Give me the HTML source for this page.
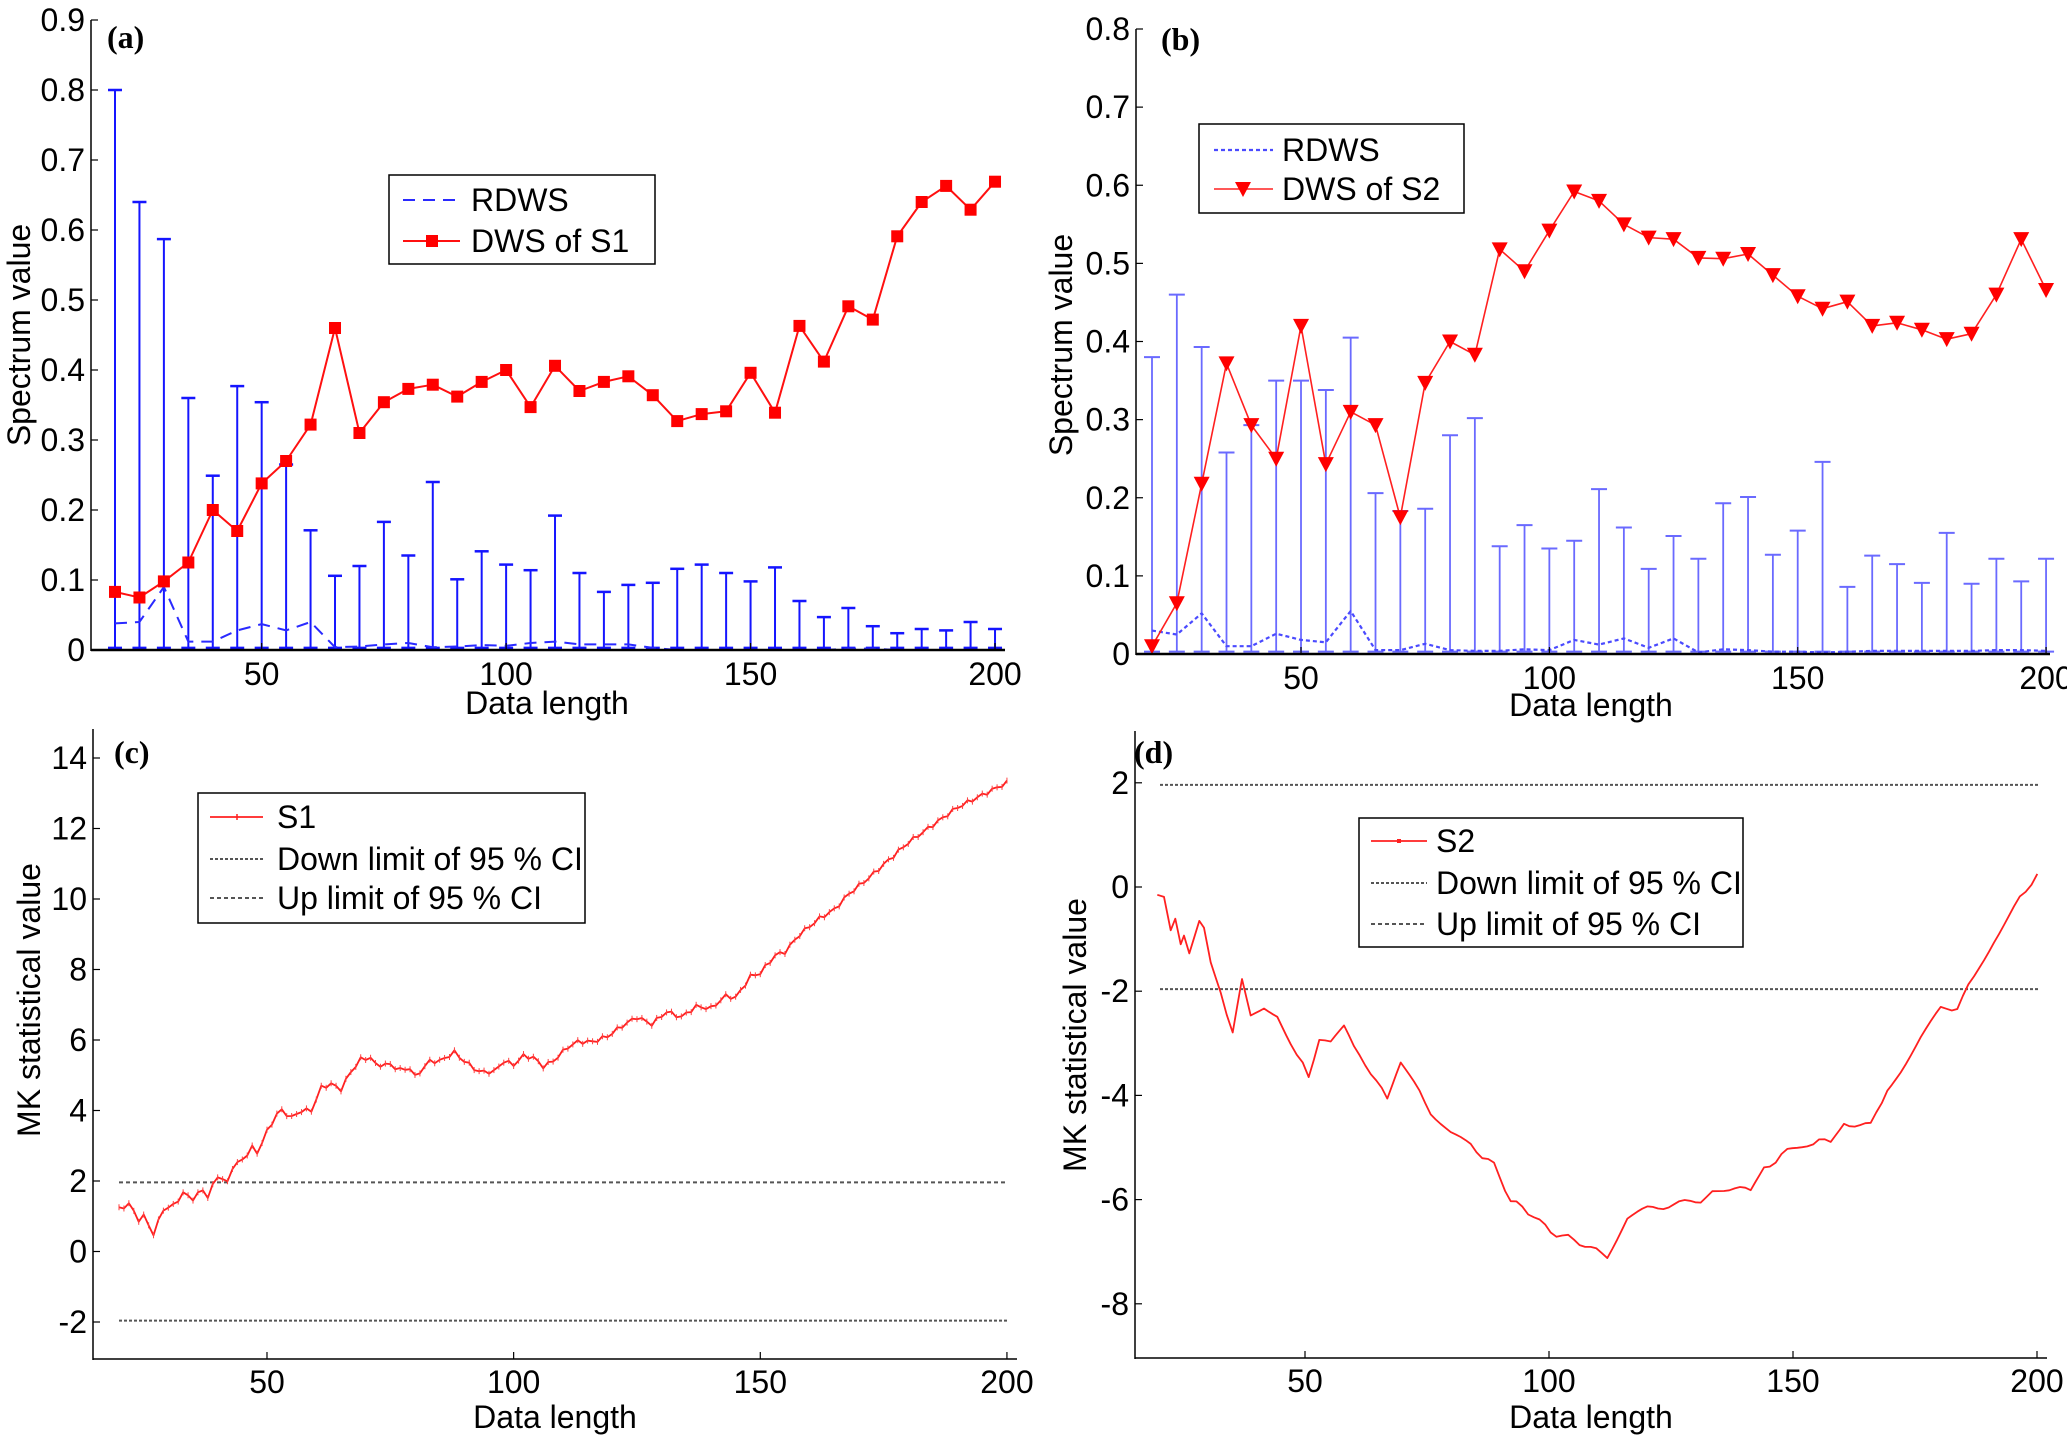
<!DOCTYPE html>
<html><head><meta charset="utf-8">
<style>
html,body{margin:0;padding:0;background:#fff;}
svg{display:block;}
text{font-family:"Liberation Sans",sans-serif;fill:#000;}
.pl{font-family:"Liberation Serif",serif;font-weight:bold;}
</style></head>
<body>
<svg id="s" width="2067" height="1437" viewBox="0 0 2067 1437" xmlns="http://www.w3.org/2000/svg"></svg>
<script>
var S=document.getElementById('s'),h='';
function L(x1,y1,x2,y2,c,w,d){h+='<line x1="'+x1+'" y1="'+y1+'" x2="'+x2+'" y2="'+y2+'" stroke="'+c+'" stroke-width="'+w+'"'+(d?' stroke-dasharray="'+d+'"':'')+'/>';}
function P(pts,c,w,d){h+='<polyline fill="none" points="'+pts.map(function(p){return p[0].toFixed(1)+','+p[1].toFixed(1)}).join(' ')+'" stroke="'+c+'" stroke-width="'+w+'"'+(d?' stroke-dasharray="'+d+'"':'')+' stroke-linejoin="round"/>';}
function T(x,y,s,a,sz,cls){h+='<text x="'+x+'" y="'+y+'" font-size="'+(sz||32)+'" text-anchor="'+(a||'start')+'"'+(cls?' class="'+cls+'"':'')+'>'+s+'</text>';}
function TR(x,y,s){h+='<text x="'+x+'" y="'+y+'" font-size="32" text-anchor="middle" transform="rotate(-90 '+x+' '+y+')">'+s+'</text>';}
var X=[];for(var i=20;i<=200;i+=5)X.push(i);

// ---------- Panel a ----------
(function(){
var px=function(x){return 115+(x-20)*4.889},py=function(v){return 650-v*700};
var dws=[0.083,0.075,0.098,0.125,0.20,0.17,0.238,0.27,0.322,0.46,0.31,0.354,0.373,0.379,0.362,0.383,0.40,0.347,0.406,0.37,0.383,0.391,0.364,0.327,0.337,0.341,0.396,0.339,0.463,0.412,0.491,0.472,0.591,0.64,0.663,0.629,0.669];
var top=[0.80,0.64,0.587,0.36,0.249,0.377,0.354,0.265,0.171,0.106,0.12,0.183,0.135,0.24,0.101,0.141,0.122,0.114,0.192,0.11,0.083,0.093,0.096,0.116,0.122,0.11,0.098,0.118,0.07,0.047,0.06,0.034,0.024,0.03,0.028,0.04,0.03];
var rd=[0.038,0.04,0.09,0.012,0.012,0.028,0.037,0.028,0.04,0.004,0.005,0.008,0.01,0.004,0.005,0.007,0.006,0.01,0.012,0.008,0.008,0.008,0.003,0,0,0,0,0,0,0,0.002,0.002,0,0,0,0,0];
X.forEach(function(x,i){var xx=px(x);L(xx,py(top[i]),xx,py(0.003),'#1515ff',2);L(xx-7,py(top[i]),xx+7,py(top[i]),'#1515ff',2.5);L(xx-7,py(0.003),xx+7,py(0.003),'#1515ff',2.5);});
P(X.map(function(x,i){return [px(x),py(rd[i])]}),'#2a2aff',2,'12,8');
P(X.map(function(x,i){return [px(x),py(dws[i])]}),'#ff1010',2);
X.forEach(function(x,i){h+='<rect x="'+(px(x)-6)+'" y="'+(py(dws[i])-6)+'" width="12" height="12" fill="#ff0000"/>';});
L(91,20,91,651,'#000',1.5);L(91,650,1005,650,'#000',2.5);
for(var v=0;v<=9;v++){var y=py(v/10);L(91,y,98,y,'#000',1.2);T(85,y+11,v==0?'0':(v/10).toFixed(1),'end');}
[50,100,150,200].forEach(function(x){L(px(x),650,px(x),643,'#000',1.2);T(px(x),685,x,'middle');});
T(547,714,'Data length','middle');TR(30,335,'Spectrum value');
T(107,48,'(a)','start',32,'pl');
h+='<rect x="389" y="175" width="266" height="89" fill="#fff" stroke="#000" stroke-width="1.5"/>';
L(403,200,460,200,'#2a2aff',2,'12,8');T(471,211,'RDWS');
L(403,241,460,241,'#ff1010',2);h+='<rect x="426" y="235" width="12" height="12" fill="#ff0000"/>';T(471,252,'DWS of S1');
})();

// ---------- Panel b ----------
(function(){
var px=function(x){return 1152+(x-20)*4.967},py=function(v){return 654-v*781.25};
var dws=[0.01,0.065,0.218,0.372,0.293,0.25,0.42,0.243,0.31,0.293,0.175,0.347,0.4,0.383,0.518,0.49,0.542,0.592,0.58,0.55,0.533,0.531,0.507,0.506,0.512,0.485,0.458,0.442,0.451,0.42,0.424,0.415,0.403,0.41,0.46,0.531,0.466];
var top=[0.38,0.46,0.393,0.258,0.293,0.35,0.35,0.338,0.405,0.206,0.183,0.186,0.28,0.302,0.138,0.165,0.135,0.145,0.211,0.162,0.109,0.151,0.122,0.193,0.201,0.127,0.158,0.246,0.086,0.126,0.115,0.091,0.155,0.09,0.122,0.093,0.122];
var rd=[0.03,0.025,0.052,0.01,0.01,0.026,0.018,0.015,0.055,0.005,0.005,0.013,0.005,0.004,0.004,0.006,0.005,0.018,0.012,0.02,0.008,0.02,0.002,0.006,0.005,0.003,0.003,0.002,0.003,0.004,0.004,0.004,0.004,0.004,0.005,0.005,0.004];
X.forEach(function(x,i){var xx=px(x);L(xx,py(top[i]),xx,py(0.003),'#6a6aff',1.8);L(xx-8,py(top[i]),xx+8,py(top[i]),'#6a6aff',2);L(xx-8,py(0.003),xx+8,py(0.003),'#6a6aff',2);});
P(X.map(function(x,i){return [px(x),py(rd[i])]}),'#4a4aff',2.2,'4,3');
P(X.map(function(x,i){return [px(x),py(dws[i])]}),'#ff2020',1.6);
X.forEach(function(x,i){var a=px(x),b=py(dws[i]);h+='<polygon points="'+(a-8)+','+(b-7)+' '+(a+8)+','+(b-7)+' '+a+','+(b+8)+'" fill="#ff0000"/>';});
L(1136,29,1136,655,'#000',1.5);L(1136,654,2050,654,'#000',2.5);
for(var v=0;v<=8;v++){var y=py(v/10);L(1136,y,1143,y,'#000',1.2);T(1130,y+11,v==0?'0':(v/10).toFixed(1),'end');}
[50,100,150,200].forEach(function(x){L(px(x),654,px(x),647,'#000',1.2);T(px(x),689,x,'middle');});
T(1591,716,'Data length','middle');TR(1072,345,'Spectrum value');
T(1161,50,'(b)','start',32,'pl');
h+='<rect x="1199" y="124" width="265" height="89" fill="#fff" stroke="#000" stroke-width="1.5"/>';
L(1214,150,1273,150,'#4a4aff',2.2,'4,3');T(1282,161,'RDWS');
L(1214,189,1273,189,'#ff2020',1.6);var a=1243,b=189;h+='<polygon points="'+(a-8)+','+(b-7)+' '+(a+8)+','+(b-7)+' '+a+','+(b+8)+'" fill="#ff0000"/>';T(1282,200,'DWS of S2');
})();

// ---------- Panel c ----------
(function(){
var px=function(x){return 119+(x-20)*4.933},py=function(v){return 1251.5-v*35.25};
var k=[[20,1.2],[22,1.35],[24,0.9],[25,1.0],[27,0.5],[29,1.2],[31,1.3],[33,1.65],[35,1.5],[37,1.75],[38,1.55],[40,2.15],[42,1.95],[43,2.4],[45,2.6],[47,2.95],[48,2.8],[50,3.4],[52,3.9],[53,4.0],[55,3.8],[57,4.0],[59,4.0],[61,4.65],[63,4.75],[65,4.6],[67,5.1],[69,5.45],[71,5.5],[72,5.3],[75,5.3],[77,5.15],[79,5.2],[80,4.95],[83,5.4],[85,5.4],[88,5.65],[90,5.4],[93,5.1],[96,5.1],[98,5.4],[100,5.3],[102,5.55],[104,5.5],[106,5.25],[108,5.4],[111,5.8],[113,5.95],[116,5.95],[119,6.1],[122,6.4],[125,6.65],[128,6.45],[131,6.8],[134,6.65],[137,6.95],[140,6.9],[143,7.25],[145,7.2],[148,7.8],[150,7.9],[153,8.4],[155,8.5],[158,9.0],[162,9.45],[165,9.7],[168,10.15],[172,10.6],[176,11.1],[180,11.6],[185,12.1],[190,12.6],[195,12.95],[200,13.3]];
var pts=[];for(var x=20;x<=200;x++){var j=0;while(j<k.length-2&&k[j+1][0]<x)j++;var a=k[j],b=k[j+1];var v=a[1]+(b[1]-a[1])*(x-a[0])/(b[0]-a[0]);v+=0.06*Math.sin(x*2.3);pts.push([px(x),py(v)]);}
L(119,py(1.96),1007,py(1.96),'#555',2,'4,3');L(119,py(-1.96),1007,py(-1.96),'#555',2,'3,2');
P(pts,'#ff2020',1.8);
pts.forEach(function(p){L(p[0],p[1]-3,p[0],p[1]+3,'#ff4040',1);});
L(93,729,93,1360,'#000',1.5);L(93,1359,1017,1359,'#000',1.5);
for(var v=-2;v<=14;v+=2){var y=py(v);L(93,y,100,y,'#000',1.2);T(87,y+11,v,'end');}
[50,100,150,200].forEach(function(x){L(px(x),1359,px(x),1352,'#000',1.2);T(px(x),1393,x,'middle');});
T(555,1428,'Data length','middle');TR(40,1000,'MK statistical value');
T(114,763,'(c)','start',32,'pl');
h+='<rect x="198" y="793" width="387" height="130" fill="#fff" stroke="#000" stroke-width="1.5"/>';
L(210,817,263,817,'#ff2020',1.8);L(237,814,237,820,'#ff2020',1.5);T(277,828,'S1');
L(210,859,263,859,'#555',2,'3,2');T(277,870,'Down limit of 95 % CI');
L(210,898,263,898,'#555',2,'4,3');T(277,909,'Up limit of 95 % CI');
})();

// ---------- Panel d ----------
(function(){
var z=[[185,383],[195,390],[205,455],[212,430],[220,490],[225,465],[233,505],[248,440],[255,455],[265,530],[280,590],[298,685],[312,570],[325,645],[345,625],[365,640],[385,700],[412,775],[428,690],[445,705],[465,668],[480,715],[497,745],[530,825],[550,750],[570,790],[595,850],[625,895],[655,925],[690,965],[715,1040],[750,1075],[775,1110],[810,1125],[835,1145],[860,1160],[890,1080],[920,1060],[960,1050],[1000,1040],[1035,1015],[1075,1020],[1095,975],[1130,935],[1160,920],[1195,910],[1215,875],[1255,880],[1280,800],[1300,760],[1330,690],[1360,630],[1385,625],[1410,560],[1440,480],[1470,410],[1505,338]];
var pts=[];for(var j=0;j<z.length-1;j++){var a=z[j],b=z[j+1];var n=Math.max(1,Math.round((b[0]-a[0])/8));for(var t=0;t<n;t++){var zx=a[0]+(b[0]-a[0])*t/n,zy=a[1]+(b[1]-a[1])*t/n+6*Math.sin(zx*0.9);pts.push([1034+zx/1.5,717+zy/2.154]);}}
pts.push([1034+1505/1.5,717+338/2.154]);
var py=function(v){return 887-v*52.1},px=function(x){return 1158.6+(x-20)*4.88};
L(1160,py(1.96),2040,py(1.96),'#555',2,'3,2');L(1160,py(-1.96),2040,py(-1.96),'#555',2,'3,2');
P(pts,'#ff2020',1.8);
L(1135,731,1135,1359,'#000',1.5);L(1135,1358,2047,1358,'#000',1.5);
for(var v=-8;v<=2;v+=2){var y=py(v);L(1135,y,1142,y,'#000',1.2);T(1129,y+11,v,'end');}
[50,100,150,200].forEach(function(x){L(px(x),1358,px(x),1351,'#000',1.2);T(px(x),1392,x,'middle');});
T(1591,1428,'Data length','middle');TR(1086,1035,'MK statistical value');
T(1134,763,'(d)','start',32,'pl');
h+='<rect x="1359" y="818" width="384" height="129" fill="#fff" stroke="#000" stroke-width="1.5"/>';
L(1371,841,1427,841,'#ff2020',1.8);h+='<rect x="1397" y="839" width="4" height="4" fill="#ff2020"/>';T(1436,852,'S2');
L(1371,883,1427,883,'#555',2,'3,2');T(1436,894,'Down limit of 95 % CI');
L(1371,924,1427,924,'#555',2,'4,3');T(1436,935,'Up limit of 95 % CI');
})();
S.innerHTML=h;
</script>
</body></html>
